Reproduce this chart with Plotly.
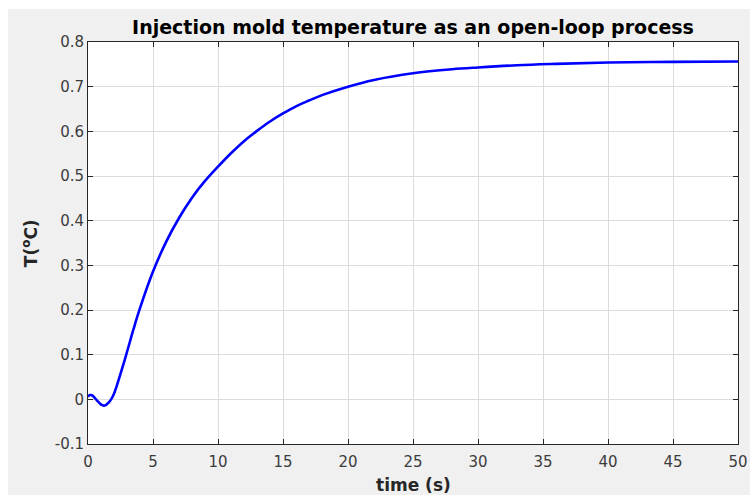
import plotly.graph_objects as go

# time (s) and temperature (°C)
time_s = [0, 0.15, 0.3, 0.5, 0.7, 0.9, 1.05, 1.2, 1.4, 1.6, 1.8, 2.0, 2.2, 2.5,
          3.0, 3.5, 4.0, 5.0, 6.0, 7.0, 8.0, 9.0, 10.0, 11.0, 12.0, 13.0, 14.0,
          15.0, 16.0, 17.0, 18.0, 20.0, 22.0, 25.0, 28.0, 30.0, 33.0, 36.0,
          40.0, 45.0, 50.0]
temp_c = [0.006, 0.0095, 0.009, 0.004, -0.003, -0.009, -0.0125, -0.014, -0.0122,
          -0.007, 0.001, 0.0125, 0.029, 0.057, 0.106, 0.157, 0.204, 0.286, 0.352,
          0.406, 0.4515, 0.489, 0.521, 0.551, 0.578, 0.601, 0.622, 0.640, 0.656,
          0.669, 0.681, 0.700, 0.715, 0.730, 0.739, 0.743, 0.748, 0.751, 0.754,
          0.7555, 0.7562]

x_ticks = [0, 5, 10, 15, 20, 25, 30, 35, 40, 45, 50]
y_ticks = [-0.1, 0, 0.1, 0.2, 0.3, 0.4, 0.5, 0.6, 0.7, 0.8]
y_tick_text = ["-0.1", "0", "0.1", "0.2", "0.3", "0.4", "0.5", "0.6", "0.7", "0.8"]

FONT = "DejaVu Sans, Arial"

fig = go.Figure()
fig.add_trace(go.Scatter(x=time_s, y=temp_c, mode="lines",
                         line=dict(color="#0000ff", width=2.6, shape="spline", smoothing=1.0),
                         showlegend=False, hoverinfo="x+y"))

axis_common = dict(showline=True, linecolor="#262626", linewidth=1, mirror="ticks",
                   ticks="inside", ticklen=5, tickcolor="#262626", tickwidth=1,
                   showgrid=True, gridcolor="#dcdcdc", gridwidth=1, zeroline=False,
                   automargin=False,
                   tickfont=dict(family=FONT, size=15, color="#3c3c3c"))

fig.update_xaxes(range=[0, 50], tickvals=x_ticks, ticklabelstandoff=4, **axis_common)
fig.update_yaxes(range=[-0.1, 0.8], tickvals=y_ticks, ticktext=y_tick_text, **axis_common)

fig.update_layout(
    width=750, height=486,
    margin=dict(l=80, r=20, t=33, b=51),
    paper_bgcolor="#f0f0f0", plot_bgcolor="#ffffff",
    title=dict(text="<b>Injection mold temperature as an open-loop process</b>",
               x=0.5, xref="paper", xanchor="center", y=1 - 18 / 486, yref="container",
               yanchor="middle",
               font=dict(family=FONT, size=19, color="#000000")),
    annotations=[
        dict(text="<b>time (s)</b>", xref="paper", yref="paper", x=0.5, y=-0.102,
             xanchor="center", yanchor="middle", showarrow=False,
             font=dict(family=FONT, size=17, color="#262626")),
        dict(text="<b>T(<sup>o</sup>C)</b>", xref="paper", yref="paper", x=-0.089, y=0.5,
             xanchor="center", yanchor="middle", textangle=-90, showarrow=False,
             font=dict(family=FONT, size=17, color="#262626")),
    ],
)

fig.write_html("out.html",
               post_script="document.body.style.margin='9px 0 0 8px';document.body.style.overflow='hidden';")
